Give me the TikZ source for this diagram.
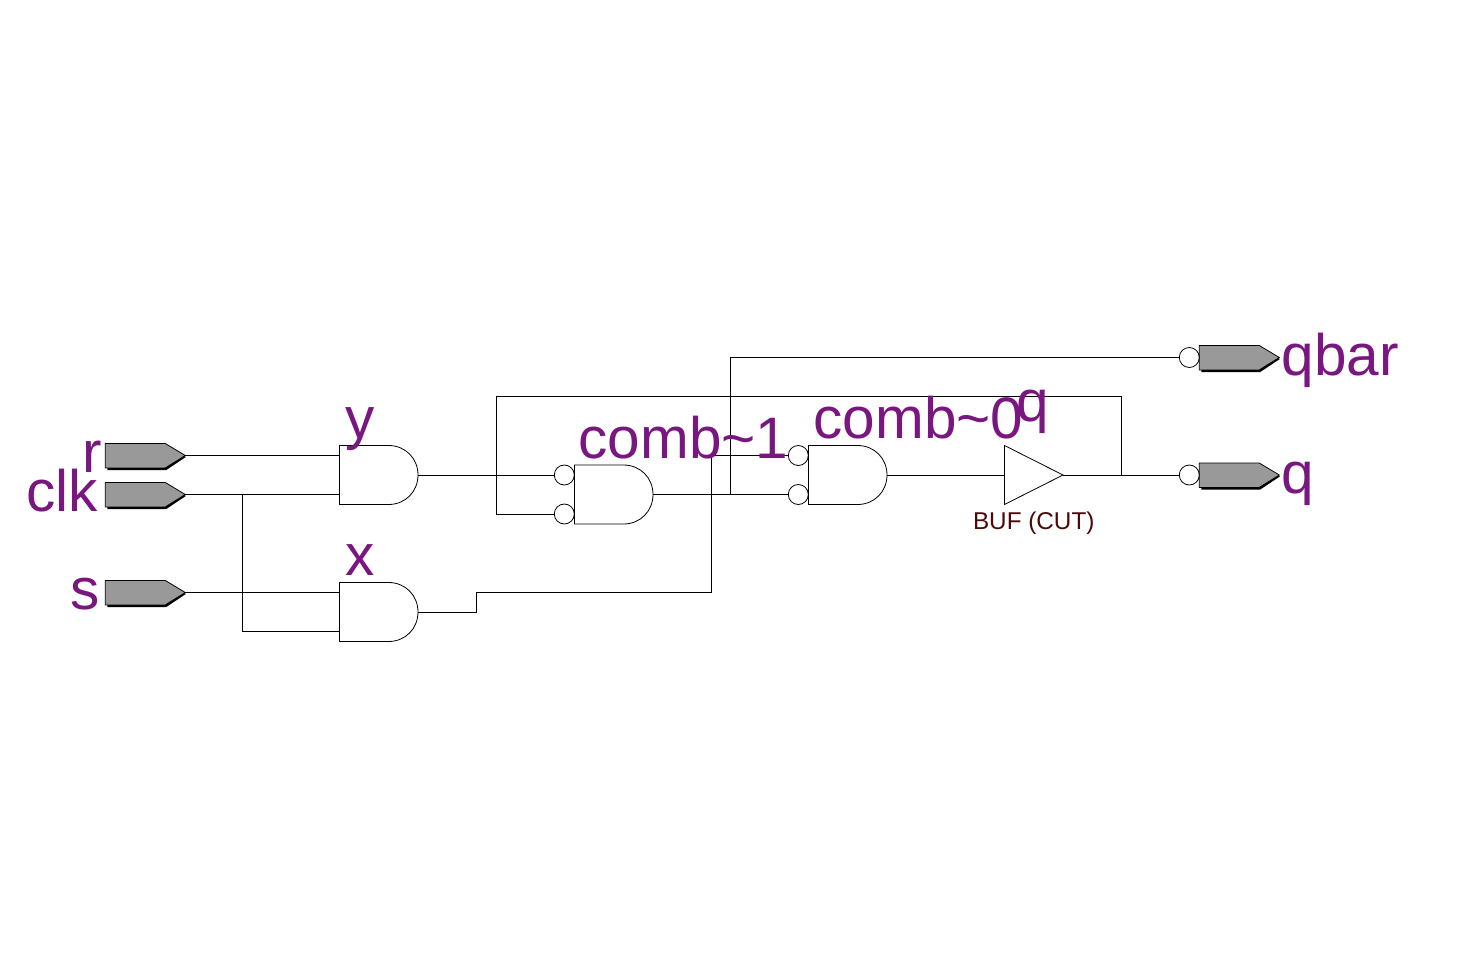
\documentclass[tikz,border=0pt]{standalone}
\usepackage{fontspec}
\setmainfont{Liberation Sans}
\usepackage{xcolor}
\definecolor{sigpurple}{HTML}{7A1680}
\definecolor{cutbrown}{HTML}{4A0A0A}
\definecolor{pingrey}{HTML}{999999}

\begin{document}
\begin{tikzpicture}[
    x=1pt, y=-1pt,
    line width=1pt,
    bubble/.style={draw, circle, inner sep=0pt, minimum size=20pt, line width=0.8pt},
    signame/.style={anchor=base west, inner sep=0pt, text=sigpurple, font=\fontsize{58.5}{58.5}\selectfont},
    cutname/.style={anchor=base west, inner sep=0pt, text=cutbrown, font=\fontsize{24.3}{24.3}\selectfont},
    andgate/.pic={
        \draw[line width=0.8pt] (0,0) -- (49,0) .. controls (66,0) and (78.5,13) .. (78.5,29.5)
            .. controls (78.5,46) and (66,59) .. (49,59) -- (0,59) -- cycle;
        \coordinate (-a) at (0,10);
        \coordinate (-b) at (0,49);
        \coordinate (-out) at (78.5,29.5);
    },
    buffer/.pic={
        \draw[line width=0.8pt] (0,0) -- (58.5,29.5) -- (0,59) -- cycle;
        \coordinate (-a) at (0,29.5);
        \coordinate (-out) at (58.5,29.5);
    },
    ioport/.pic={
        \fill[black] (2,2) -- (61,2) -- (80.5,13.5) -- (61,26.5) -- (2,26.5) -- cycle;
        \draw[fill=pingrey, line width=0.8pt] (0,0) -- (60,0) -- (80,12) -- (60,24.4) -- (0,24.4) -- cycle;
        \coordinate (-tip) at (80,12);
    }
]

\path[use as bounding box, fill=white] (0,0) rectangle (1460,972);

% input pins
\pic (r) at (105.3,443.5) {ioport};
\pic (clk) at (105.3,482.5) {ioport};
\pic (s) at (105.3,580.5) {ioport};

% gates
\pic (y) at (339.5,445.5) {andgate};
\pic (x) at (339.5,582.5) {andgate};
\pic (comb1) at (574.5,465) {andgate};
\pic (comb0) at (808.5,445.5) {andgate};
\pic (buf) at (1004.5,445.5) {buffer};

\node[bubble] (comb1a) at (564.3,475) {};
\node[bubble] (comb1b) at (564.3,514) {};
\node[bubble] (comb0a) at (798.3,455.5) {};
\node[bubble] (comb0b) at (798.3,494.5) {};

% output pins
\pic (qbar) at (1199.3,345.5) {ioport};
\pic (q) at (1199.3,463) {ioport};
\node[bubble] (qbara) at (1189.3,357.5) {};
\node[bubble] (qa) at (1189.3,475) {};

% bends and junctions
\coordinate (clkjoin) at (242.5,494.5);
\coordinate (xbend) at (476.5,592.5);
\coordinate (xtop) at (711.5,455.5);
\coordinate (combjoin) at (730.5,494.5);
\coordinate (qjoin) at (1121.5,475);
\coordinate (backtop) at (496.5,396.5);

\path
(r-tip) edge (y-a)
(clk-tip) edge (y-b)
(s-tip) edge (x-a)
(y-out) edge (comb1a.west)
(comb1-out) edge (comb0b.west)
(comb0-out) edge (buf-a)
(buf-out) edge (qa.west);

\draw (clkjoin) |- (x-b);
\draw (x-out) -| (xbend) -| (xtop) -- (comb0a.west);
\draw (combjoin) |- (qbara.west);
\draw (qjoin) |- (backtop) |- (comb1b.west);

% labels
\node[signame] (rname) at (81.5,472.5) {r};
\node[signame] (clkname) at (26,511.5) {clk};
\node[signame] (sname) at (70,609.3) {s};
\node[signame] (yname) at (344.5,438) {y};
\node[signame] (xname) at (344.5,575.5) {x};
\node[signame] (comb1name) at (578,458.3) {comb\textasciitilde 1};
\node[signame] (comb0name) at (813,438.3) {comb\textasciitilde 0};
\node[signame] (qinname) at (1016,421.7) {q};
\node[signame] (qbarname) at (1281,375) {qbar};
\node[signame] (qname) at (1281,493) {q};
\node[cutname] (bufname) at (972.5,529) {BUF (CUT)};
\end{tikzpicture}
\end{document}
